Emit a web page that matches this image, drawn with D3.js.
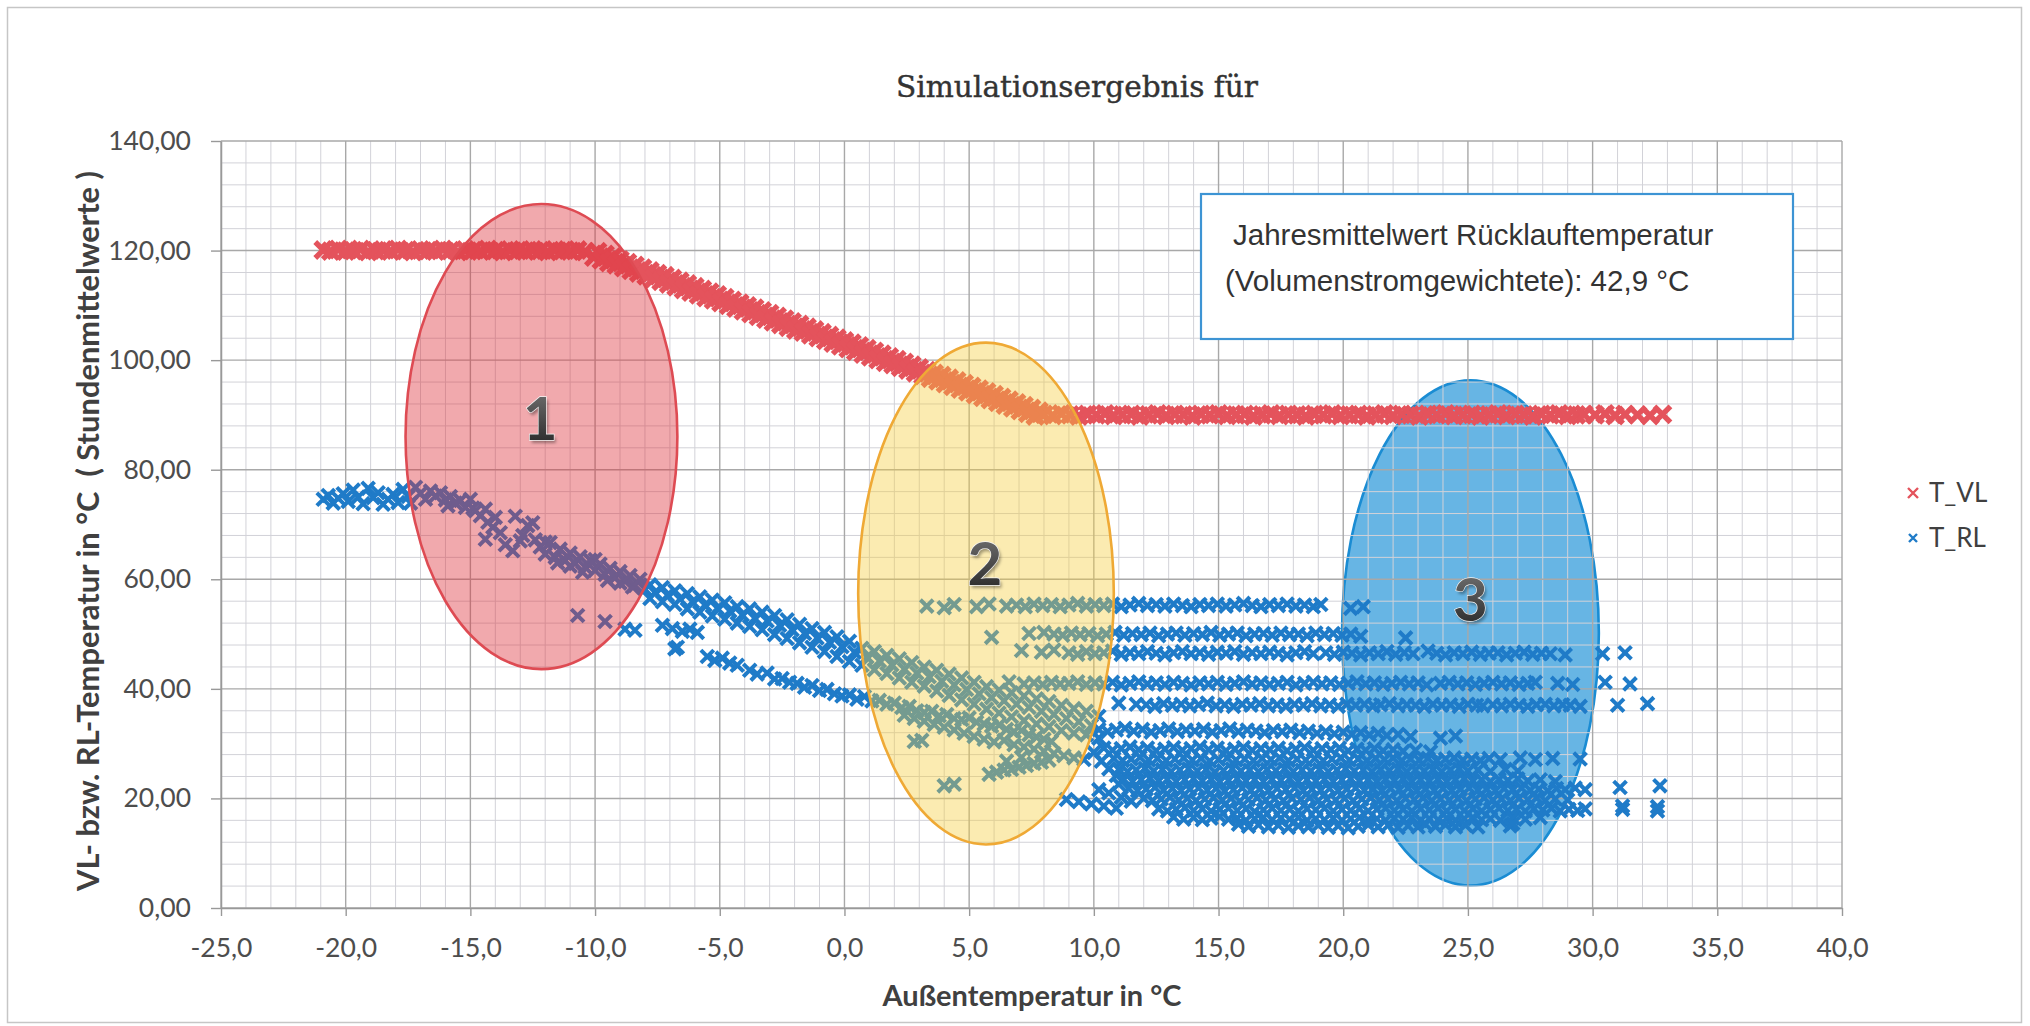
<!DOCTYPE html>
<html>
<head>
<meta charset="utf-8">
<script src="https://cdn.jsdelivr.net/npm/d3@7"></script>
<style>
  html, body { margin: 0; padding: 0; background: #fff; }
  svg { display: block; }
</style>
</head>
<body>
<svg id="chart" width="2030" height="1026"></svg>
<script>
// ---------------------------------------------------------------
// Axis ticks and labels
// ---------------------------------------------------------------
const xTicks = [-25, -20, -15, -10, -5, 0, 5, 10, 15, 20, 25, 30, 35, 40];
const yTicks = [0, 20, 40, 60, 80, 100, 120, 140];
const seriesNames = ["T_VL", "T_RL"];
const chartTitle = "Simulationsergebnis für";
const xTitle = "Außentemperatur in °C";
const yTitle = "VL- bzw. RL-Temperatur in °C  ( Stundenmittelwerte )";
const noteLines = ["Jahresmittelwert Rücklauftemperatur", "(Volumenstromgewichtete): 42,9 °C"];

// ---------------------------------------------------------------
// T_VL (flow temperature) – hourly means [outside temp, flow temp]
// ---------------------------------------------------------------
const vlCold = [[-20.9,120.1],[-20.6,119.9],[-20.3,120.2],[-20.0,119.9],[-19.7,120.0],[-19.4,120.2],[-19.1,119.8],[-18.8,120.0],[-18.5,120.1],[-18.2,119.9],[-17.9,120.2],[-17.6,120.0],[-17.3,119.8],[-17.0,120.1],[-16.7,120.0],[-16.4,119.9],[-16.1,120.2],[-15.8,120.0],[-15.5,119.8],[-15.2,120.1],[-14.9,120.0],[-14.6,119.9],[-14.3,120.2],[-14.0,120.0],[-13.7,119.8],[-13.4,120.1],[-13.1,120.0],[-12.8,119.9],[-12.5,120.1],[-12.2,120.0],[-11.9,119.8],[-11.6,120.1],[-11.3,120.0],[-11.0,119.9],[-10.7,120.1],[-10.4,119.8]];

const vlSlope = [[-9.9,119.8],[-9.6,119.3],[-9.3,118.8],[-9.0,118.3],[-8.7,117.8],[-8.4,117.3],[-8.1,116.8],[-7.8,116.3],[-7.5,115.8],[-7.2,115.4],[-6.9,114.9],[-6.6,114.4],[-6.3,113.9],[-6.0,113.4],[-5.7,112.9],[-5.4,112.4],[-5.1,111.9],[-4.8,111.4],[-4.5,110.9],[-4.2,110.4],[-3.9,109.9],[-3.6,109.5],[-3.3,109.0],[-3.0,108.5],[-2.7,108.0],[-2.4,107.5],[-2.1,107.0],[-1.8,106.5],[-1.5,106.0],[-1.2,105.5],[-0.9,105.0],[-0.6,104.5],[-0.3,104.0],[0.0,103.5],[0.3,103.1],[0.6,102.6],[0.9,102.1],[1.2,101.6],[1.5,101.1],[1.8,100.6],[2.1,100.1],[2.4,99.6],[2.7,99.1],[3.0,98.6],[3.3,98.1],[3.6,97.6],[3.9,97.2],[4.2,96.7],[4.5,96.2],[4.8,95.7],[5.1,95.2],[5.4,94.7],[5.7,94.2],[6.0,93.7],[6.3,93.2],[6.6,92.7],[6.9,92.2],[7.2,91.7],[7.5,91.2],[7.8,90.7],
  [-10.05,118.8],[-9.75,118.3],[-9.45,117.8],[-9.15,117.4],[-8.85,116.9],[-8.55,116.4],[-8.25,115.9],[-7.95,115.4],[-7.65,114.9],[-7.35,114.4],[-7.05,113.9],[-6.75,113.4],[-6.45,112.9],[-6.15,112.4],[-5.85,111.9],[-5.55,111.4],[-5.25,111.0],[-4.95,110.5],[-4.65,110.0],[-4.35,109.5],[-4.05,109.0],[-3.75,108.5],[-3.45,108.0],[-3.15,107.5],[-2.85,107.0],[-2.55,106.5],[-2.25,106.0],[-1.95,105.5],[-1.65,105.1],[-1.35,104.6],[-1.05,104.1],[-0.75,103.6],[-0.45,103.1],[-0.15,102.6],[0.15,102.1],[0.45,101.6],[0.75,101.1],[1.05,100.6],[1.35,100.1],[1.65,99.6],[1.95,99.2],[2.25,98.7],[2.55,98.2],[2.85,97.7],[3.15,97.2],[3.45,96.7],[3.75,96.2],[4.05,95.7],[4.35,95.2],[4.65,94.7],[4.95,94.2],[5.25,93.7],[5.55,93.2],[5.85,92.8],[6.15,92.3],[6.45,91.8],[6.75,91.3],[7.05,90.8],[7.35,90.3],[7.65,89.8]];

const vlWarm = [[8.0,90.1],[8.35,89.9],[8.7,90.2],[9.05,90.0],[9.4,89.8],[9.75,90.1],[10.1,90.0],[10.45,90.2],[10.8,89.9],[11.15,90.0],[11.5,90.1],[11.85,89.8],[12.2,90.0],[12.55,90.2],[12.9,89.9],[13.25,90.1],[13.6,90.0],[13.95,89.8],[14.3,90.1],[14.65,90.0],[15.0,90.2],[15.35,89.9],[15.7,90.0],[16.05,90.1],[16.4,89.8],[16.75,90.0],[17.1,90.2],[17.45,89.9],[17.8,90.1],[18.15,90.0],[18.5,89.8],[18.85,90.1],[19.2,90.0],[19.55,90.2],[19.9,89.9],[20.25,90.0],[20.6,90.1],[20.95,89.8],[21.3,90.0],[21.65,90.2],[22.0,89.9],[22.35,90.1],[22.7,90.0],[23.05,89.8],[23.4,90.1],[23.75,90.0],[24.1,90.2],[24.45,89.9],[24.8,90.0],[25.15,90.1],[25.5,89.8],[25.85,90.0],[26.2,90.2],[26.55,89.9],[26.9,90.1],[27.25,90.0],[27.6,89.8],[27.95,90.1],[28.3,90.0],[28.65,90.2],[29.0,89.9],[29.35,90.0],[29.65,90.1],
  [30.1,90.0],[30.5,90.2],[30.9,89.9],[31.3,90.1],[31.8,90.0],[32.3,89.9],[32.8,90.1]];

// ---------------------------------------------------------------
// T_RL (return temperature) – hourly means [outside temp, return temp]
// ---------------------------------------------------------------
const rlCold = [[-20.9,74.6],[-20.7,75.3],[-20.5,73.9],[-20.3,74.8],[-20.1,75.6],[-19.9,74.2],[-19.7,76.3],[-19.5,75.0],[-19.3,73.8],[-19.1,76.6],[-18.9,74.9],[-18.7,75.8],[-18.5,73.7],[-18.3,74.6],[-18.1,75.5],[-17.9,74.0],[-17.7,76.4],[-17.5,75.1],[-17.4,73.9],[-17.2,76.8],[-17.0,75.7],[-16.8,74.6],[-16.6,76.1],[-16.4,75.2]];

const rlSteep = [[-16.2,75.8],[-16.0,74.5],[-15.9,73.4],[-15.8,75.1],[-15.6,73.9],[-15.4,74.4],[-15.2,73.1],[-15.0,74.6],[-14.9,73.0],[-14.8,72.5],[-14.6,71.6],[-14.4,72.8],[-14.3,70.4],[-14.1,69.5],[-14.0,71.3],[-14.4,67.3],[-13.8,68.5],[-13.6,66.3],[-13.2,71.5],[-13.3,65.2],[-13.0,67.0],[-12.9,68.0],[-12.7,69.8],[-12.5,70.3],[-12.4,67.2],[-12.2,65.9],[-12.0,64.6],[-12.0,66.8],[-11.8,66.7],[-11.6,64.0],[-11.5,63.0],[-11.4,65.5],[-11.2,63.4],[-11.0,64.8],[-11.0,62.4],[-10.8,62.9],[-10.6,64.1],[-10.5,61.3],[-10.4,62.2],[-10.2,63.5],[-10.0,61.6],[-10.0,63.6],[-9.8,62.8],[-9.6,60.9],[-9.5,59.8],[-9.4,62.0],[-9.2,60.3],[-9.0,61.4],[-9.0,59.3],[-8.8,59.6],[-8.6,60.7],[-8.5,58.6],[-8.4,58.9],[-8.2,60.0],[-8.0,58.2],
  [-10.7,53.4],[-9.6,52.3],[-8.8,50.9],[-8.4,50.7],[-6.7,47.6]];

const rlMain = [[-7.8,59.0],[-7.3,58.5],[-6.8,57.9],[-6.3,57.4],[-5.8,56.8],[-5.3,56.2],[-4.8,55.7],[-4.3,55.0],[-3.8,54.6],[-3.3,54.0],[-2.8,53.4],[-2.3,52.6],[-1.8,51.8],[-1.3,51.0],[-0.8,50.3],[-0.3,49.5],[0.2,48.7],[0.7,47.4],[1.2,46.8],[1.7,46.1],[2.2,45.5],[2.7,44.8],[3.2,44.0],[3.7,43.4],[4.2,42.7],[4.7,42.0],[5.2,41.2],[5.7,40.4],[6.2,39.8],[6.7,39.3],[7.2,38.7],[7.7,38.2],[8.2,37.7],[8.7,37.0],[9.2,36.4],[9.7,35.9],[10.2,35.0],
  [-7.6,57.6],[-7.1,57.1],[-6.6,56.4],[-6.1,55.9],[-5.6,55.3],[-5.1,54.7],[-4.6,54.2],[-4.1,53.5],[-3.6,52.9],[-3.1,52.4],[-2.6,51.6],[-2.1,50.8],[-1.6,50.1],[-1.1,49.3],[-0.6,48.5],[-0.1,47.7],[0.4,46.7],[0.9,45.8],[1.4,45.1],[1.9,44.4],[2.4,43.6],[2.9,42.9],[3.4,42.2],[3.9,41.4],[4.4,40.7],[4.9,39.9],[5.4,39.1],[5.9,38.4],[6.4,37.8],[6.9,37.2],[7.4,36.6],[7.9,35.9],[8.4,35.3],[8.9,34.6],[9.4,34.0],[9.9,33.3],
  [-7.8,56.5],[-7.3,55.9],[-6.8,55.4],[-6.3,54.6],[-5.8,54.0],[-5.3,53.3],[-4.8,52.7],[-4.3,52.0],[-3.8,51.4],[-3.3,50.8],[-2.8,49.9],[-2.3,49.2],[-1.8,48.4],[-1.3,47.6],[-0.8,46.8],[-0.3,45.9],[0.2,45.0],[0.7,44.3],[1.2,43.5],[1.7,42.8],[2.2,42.0],[2.7,41.2],[3.2,40.5],[3.7,39.6],[4.2,38.8],[4.7,38.0],[5.2,37.2],[5.7,36.3],[6.2,35.6],[6.7,34.9],[7.2,34.2],[7.7,33.6],[8.2,33.1],[8.7,32.4],[9.2,31.9],[9.7,31.6],[10.2,31.0]];

const rlLower = [[-7.3,51.6],[-6.9,51.0],[-6.5,50.5],[-6.2,50.9],[-5.9,50.3],[-6.8,47.3],[-5.5,45.9],[-5.2,45.2],[-4.9,45.6],[-4.6,44.7],[-4.3,44.3],[-3.8,43.4],[-3.5,42.7],[-3.1,42.9],[-2.8,41.8],[-2.5,41.9],[-2.2,41.2],[-1.9,41.0],[-1.6,40.3],[-1.3,40.6],[-1.0,39.7],[-0.7,39.9],[-0.4,39.1],[-0.1,38.7],[0.2,38.9],[0.5,38.1],[0.8,38.6],[1.1,37.8],[1.4,37.9],[1.7,37.2],[2.0,37.4],[2.3,36.6],[2.6,36.8],[2.9,36.0],[3.2,35.7],[3.5,35.9],[3.8,35.1],[4.1,35.3],[4.4,34.6],[4.7,34.4],[5.0,34.7],[5.3,33.9],[5.6,33.6],[5.9,33.2],[6.2,33.4],[6.5,32.6],[6.8,32.2],[7.1,32.4],[7.4,31.6],[7.7,31.2],[8.0,30.8],[8.3,30.4],
  [2.4,35.2],[2.8,34.6],[3.2,34.1],[3.6,33.5],[4.0,33.0],[4.4,32.5],[4.8,31.9],[5.2,31.3],[5.6,30.8],[6.0,30.3],[6.4,30.6],[6.8,29.8],[7.2,29.4],[7.6,29.0],[8.0,28.6],[8.4,28.2],[8.8,27.8],[9.2,27.4],[9.6,27.1],
  [5.8,24.4],[6.1,24.8],[6.4,25.2],[6.7,25.3],[7.0,25.7],[7.3,26.0],[7.6,26.4],[7.9,26.6],[8.2,27.0],[6.5,26.8],[7.1,27.5],
  [2.8,30.4],[3.1,30.6],[4.0,22.3],[4.4,22.6],
  [10.0,28.4],[10.3,26.8],[10.6,25.4],[10.9,24.2],[11.0,22.6],[10.2,21.6],[10.6,21.0],[8.9,19.8],[9.4,19.4],[9.9,19.0],[10.4,18.6],[10.9,18.2],[11.5,19.5],[11.1,20.2]];

const rlRow55 = [[3.3,55.1],[4.0,54.8],[4.4,55.4],[5.3,55.0],[5.8,55.5],[6.5,55.1],[6.9,55.3],[7.25,55.0],[7.6,55.5],[7.95,55.2],[8.3,55.4],[8.65,55.0],[9.0,55.3],[9.35,55.6],[9.7,55.1],[10.05,55.4],[10.4,55.2],[10.75,55.5],[11.1,55.0],[11.45,55.3],[11.8,55.6],[12.15,55.2],[12.5,55.4],[12.85,55.1],[13.2,55.5],[13.55,55.2],[13.9,55.0],[14.25,55.4],[14.6,55.2],[14.95,55.5],[15.3,55.1],[15.65,55.3],[16.0,55.6],[16.35,55.2],[16.7,55.0],[17.05,55.4],[17.4,55.2],[17.75,55.5],[18.1,55.1],[18.45,55.3],[18.8,55.0],[19.1,55.4],[20.3,54.7],[20.8,55.0]];

const rlRow50 = [[5.9,49.4],[7.4,50.1],[8.0,50.3],[8.4,50.0],[8.75,49.8],[9.1,50.2],[9.45,49.9],[9.8,50.1],[10.15,49.7],[10.5,50.0],[10.85,50.3],[11.2,49.8],[11.55,50.1],[11.9,49.9],[12.25,50.2],[12.6,49.7],[12.95,50.0],[13.3,50.2],[13.65,49.8],[14.0,50.1],[14.35,49.9],[14.7,50.3],[15.05,49.8],[15.4,50.0],[15.75,50.2],[16.1,49.7],[16.45,50.0],[16.8,50.1],[17.15,49.8],[17.5,50.2],[17.85,49.9],[18.2,50.0],[18.55,49.7],[18.9,50.2],[19.25,49.9],[19.6,50.1],[19.95,49.8],[20.3,50.0],[20.7,49.6],[22.5,49.3]];

const rlRow46 = [[7.1,47.0],[7.9,46.7],[8.4,47.1],[9.0,46.6],[9.35,46.3],[9.7,46.8],[10.05,46.4],[10.4,46.6],[10.75,46.9],[11.1,46.3],[11.45,46.6],[11.8,46.4],[12.15,46.8],[12.5,46.5],[12.85,46.2],[13.2,46.6],[13.55,46.8],[13.9,46.4],[14.25,46.6],[14.6,46.3],[14.95,46.7],[15.3,46.5],[15.65,46.8],[16.0,46.3],[16.35,46.6],[16.7,46.4],[17.05,46.7],[17.4,46.5],[17.75,46.2],[18.1,46.6],[18.45,46.8],[18.8,46.4],[19.3,46.6],[19.65,46.3],[20.0,46.7],[20.35,46.5],[20.7,46.2],[21.05,46.6],[21.4,46.4],[21.75,46.8],[22.1,46.3],[22.45,46.6],[22.8,46.4],[23.4,46.9],[23.75,46.5],[24.1,46.2],[24.45,46.6],[24.8,46.4],[25.15,46.7],[25.5,46.3],[25.85,46.5],[26.2,46.6],[26.55,46.2],[26.9,46.5],[27.25,46.7],[27.6,46.3],[27.95,46.5],[28.3,46.4],[28.9,46.2],[30.4,46.4],[31.3,46.6]];

const rlRow41 = [[6.6,41.3],[7.2,40.9],[7.6,41.1],[7.95,40.8],[8.3,41.2],[8.65,40.9],[9.0,41.0],[9.35,41.3],[9.7,40.8],[10.05,41.1],[10.4,40.9],[10.75,41.2],[11.1,40.7],[11.45,41.0],[11.8,41.3],[12.15,40.9],[12.5,41.1],[12.85,40.8],[13.2,41.2],[13.55,41.0],[13.9,40.7],[14.25,41.1],[14.6,40.9],[14.95,41.2],[15.3,40.8],[15.65,41.0],[16.0,41.3],[16.35,40.9],[16.7,41.1],[17.05,40.8],[17.4,41.0],[17.75,41.2],[18.1,40.7],[18.45,41.0],[18.8,41.2],[19.15,40.9],[19.5,41.1],[19.85,40.8],[20.2,41.0],[20.55,41.3],[20.9,40.9],[21.25,41.1],[21.6,40.8],[21.95,41.0],[22.3,41.2],[22.65,40.9],[23.0,41.1],[23.35,40.7],[23.9,41.0],[24.25,41.2],[24.6,40.9],[24.95,41.1],[25.3,40.8],[25.65,41.0],[26.0,41.2],[26.35,40.9],[26.7,41.1],[27.05,40.8],[27.4,41.0],[27.7,41.2],[28.6,41.0],[29.2,40.8],[30.5,41.2],[31.5,40.9]];

const rlRow37 = [[11.0,37.4],[11.7,37.2],[12.1,37.1],[12.45,36.8],[12.8,37.3],[13.15,37.0],[13.5,37.2],[13.85,36.9],[14.2,37.1],[14.55,37.4],[14.9,36.9],[15.25,37.1],[15.6,36.8],[15.95,37.2],[16.3,37.0],[16.65,37.3],[17.0,36.9],[17.35,37.1],[17.7,36.8],[18.05,37.2],[18.4,37.0],[18.75,37.3],[19.1,36.9],[19.45,37.1],[19.8,36.8],[20.15,37.2],[20.5,37.0],[20.85,37.2],[21.2,36.9],[21.5,37.1],[21.85,37.3],[22.2,36.9],[22.55,37.1],[22.9,37.0],[23.25,36.8],[23.6,37.2],[23.95,37.0],[24.3,37.1],[24.65,36.8],[25.0,37.2],[25.35,37.0],[25.6,36.9],[26.0,37.1],[26.35,36.9],[26.7,37.2],[27.05,37.0],[27.4,36.8],[27.75,37.1],[28.1,37.2],[28.45,36.9],[28.8,37.1],[29.1,37.0],[29.5,36.8],[31.0,37.0],[32.2,37.3]];

const rlRow32 = [[10.2,32.6],[10.55,32.2],[10.9,32.5],[11.25,32.8],[11.6,32.3],[11.95,32.6],[12.3,32.1],[12.65,32.4],[13.0,32.7],[13.35,32.2],[13.7,32.5],[14.05,32.3],[14.4,32.6],[14.75,32.1],[15.1,32.4],[15.45,32.7],[15.8,32.2],[16.15,32.5],[16.5,32.3],[16.85,32.0],[17.2,32.4],[17.55,32.2],[17.9,32.5],[18.25,32.0],[18.6,32.3],[18.95,31.9],[19.3,32.2],[19.65,31.8],[20.0,32.1],[20.35,31.7],[20.7,32.0],[21.05,31.6],[21.4,31.9],[21.75,31.5],[22.2,31.7],[22.7,31.3],[23.9,31.0],[24.5,31.4]];

const rlBlob29 = [[10.4,29.2],[10.75,28.8],[11.1,29.1],[11.45,29.4],[11.8,28.9],[12.15,29.2],[12.5,28.7],[12.85,29.0],[13.2,29.3],[13.55,28.8],[13.9,29.1],[14.25,29.4],[14.6,28.9],[14.95,29.2],[15.3,28.7],[15.65,29.0],[16.0,29.3],[16.35,28.8],[16.7,29.1],[17.05,28.9],[17.4,29.2],[17.75,28.7],[18.1,29.0],[18.45,29.3],[18.8,28.8],[19.15,29.1],[19.5,28.9],[19.85,29.2],[20.2,28.7],[20.55,29.0],[20.9,28.8],[21.25,29.1],[21.6,28.7],[22.0,28.9],[22.4,28.6],[22.9,28.8],[23.5,28.5]];

const rlBlob27 = [[10.8,27.3],[11.15,26.9],[11.5,27.2],[11.85,27.5],[12.2,27.0],[12.55,27.3],[12.9,26.9],[13.25,27.2],[13.6,27.4],[13.95,27.0],[14.3,27.3],[14.65,26.8],[15.0,27.1],[15.35,27.4],[15.7,27.0],[16.05,27.2],[16.4,26.9],[16.75,27.3],[17.1,27.1],[17.45,27.4],[17.8,26.9],[18.15,27.2],[18.5,27.0],[18.85,27.3],[19.2,26.9],[19.55,27.2],[19.9,27.4],[20.25,27.0],[20.6,27.2],[20.95,26.9],[21.3,27.3],[21.65,27.1],[22.0,27.4],[22.35,26.9],[22.7,27.2],[23.05,27.0],[23.4,27.3],[23.75,26.9],[24.1,27.2],[24.45,27.4],[24.8,27.0],[25.15,27.2],[25.5,26.9],[25.85,27.3],[26.3,27.1],[27.1,27.4],[27.7,27.1],[28.4,27.3],[29.5,27.2]];

const rlBlob25 = [[11.0,25.3],[11.35,24.9],[11.7,25.2],[12.05,25.5],[12.4,25.0],[12.75,25.3],[13.1,24.9],[13.45,25.2],[13.8,25.4],[14.15,25.0],[14.5,25.3],[14.85,24.8],[15.2,25.1],[15.55,25.4],[15.9,25.0],[16.25,25.2],[16.6,24.9],[16.95,25.3],[17.3,25.1],[17.65,25.4],[18.0,24.9],[18.35,25.2],[18.7,25.0],[19.05,25.3],[19.4,24.9],[19.75,25.2],[20.1,25.4],[20.45,25.0],[20.8,25.2],[21.15,24.9],[21.5,25.3],[21.85,25.1],[22.2,25.4],[22.55,24.9],[22.9,25.2],[23.25,25.0],[23.6,25.3],[23.95,24.9],[24.3,25.2],[24.65,25.4],[25.0,25.0],[25.4,25.2],[25.9,24.9],[26.5,25.3],[27.0,25.0]];

const rlBlob23 = [[11.2,23.5],[11.55,23.1],[11.9,23.4],[12.25,23.7],[12.6,23.2],[12.95,23.5],[13.3,23.1],[13.65,23.4],[14.0,23.6],[14.35,23.2],[14.7,23.5],[15.05,23.0],[15.4,23.3],[15.75,23.6],[16.1,23.2],[16.45,23.4],[16.8,23.1],[17.15,23.5],[17.5,23.3],[17.85,23.6],[18.2,23.1],[18.55,23.4],[18.9,23.2],[19.25,23.5],[19.6,23.1],[19.95,23.4],[20.3,23.6],[20.65,23.2],[21.0,23.4],[21.35,23.1],[21.7,23.5],[22.05,23.3],[22.4,23.6],[22.75,23.1],[23.1,23.4],[23.45,23.2],[23.8,23.5],[24.15,23.1],[24.5,23.4],[24.85,23.6],[25.2,23.2],[25.55,23.4],[25.9,23.1],[26.25,23.5],[26.6,23.3],[27.0,23.6],[27.4,23.2],[27.9,23.4],[28.5,23.1]];

const rlBlob21 = [[11.4,21.8],[11.75,21.4],[12.1,21.7],[12.45,22.0],[12.8,21.5],[13.15,21.8],[13.5,21.4],[13.85,21.7],[14.2,21.9],[14.55,21.5],[14.9,21.8],[15.25,21.3],[15.6,21.6],[15.95,21.9],[16.3,21.5],[16.65,21.7],[17.0,21.4],[17.35,21.8],[17.7,21.6],[18.05,21.9],[18.4,21.4],[18.75,21.7],[19.1,21.5],[19.45,21.8],[19.8,21.4],[20.15,21.7],[20.5,21.9],[20.85,21.5],[21.2,21.7],[21.55,21.4],[21.9,21.8],[22.25,21.6],[22.6,21.9],[22.95,21.4],[23.3,21.7],[23.65,21.5],[24.0,21.8],[24.35,21.4],[24.7,21.7],[25.05,21.9],[25.4,21.5],[25.75,21.7],[26.1,21.4],[26.45,21.8],[26.8,21.6],[27.15,21.9],[27.5,21.5],[27.85,21.7],[28.2,21.4],[28.55,21.8],[28.9,21.6],[29.3,21.9],[29.7,21.6],[31.1,22.0],[32.7,22.3]];

const rlBlob20 = [[12.0,20.0],[12.35,19.6],[12.7,19.9],[13.05,20.2],[13.4,19.7],[13.75,20.0],[14.1,19.6],[14.45,19.9],[14.8,20.1],[15.15,19.7],[15.5,20.0],[15.85,19.5],[16.2,19.8],[16.55,20.1],[16.9,19.7],[17.25,19.9],[17.6,19.6],[17.95,20.0],[18.3,19.8],[18.65,20.1],[19.0,19.6],[19.35,19.9],[19.7,19.7],[20.05,20.0],[20.4,19.6],[20.75,19.9],[21.1,20.1],[21.45,19.7],[21.8,19.9],[22.15,19.6],[22.5,20.0],[22.85,19.8],[23.2,20.1],[23.55,19.6],[23.9,19.9],[24.25,19.7],[24.6,20.0],[24.95,19.6],[25.3,19.9],[25.65,20.1],[26.0,19.7],[26.35,19.9],[26.7,19.6],[27.05,20.0],[27.4,19.8],[27.75,20.1],[28.1,19.6],[28.5,19.9],[29.0,19.7]];

const rlBlob18 = [[12.6,18.1],[12.95,17.7],[13.3,18.0],[13.65,18.3],[14.0,17.8],[14.35,18.1],[14.7,17.7],[15.05,18.0],[15.4,18.2],[15.75,17.8],[16.1,18.1],[16.45,17.6],[16.8,17.9],[17.15,18.2],[17.5,17.8],[17.85,18.0],[18.2,17.7],[18.55,18.1],[18.9,17.9],[19.25,18.2],[19.6,17.7],[19.95,18.0],[20.3,17.8],[20.65,18.1],[21.0,17.7],[21.35,18.0],[21.7,18.2],[22.05,17.8],[22.4,18.0],[22.75,17.7],[23.1,18.1],[23.45,17.9],[23.8,18.2],[24.15,17.7],[24.5,18.0],[24.85,17.8],[25.2,18.1],[25.55,17.7],[25.9,18.0],[26.25,18.2],[26.6,17.8],[26.95,18.0],[27.3,17.7],[27.65,18.1],[28.0,17.9],[28.35,18.2],[28.7,17.7],[29.05,18.0],[29.4,17.8],[29.7,18.1],[31.2,18.0],[32.6,17.7],[31.2,18.6],[32.6,18.5]];

const rlBlob16 = [[13.2,16.6],[13.6,16.2],[14.0,16.5],[14.35,16.1],[14.7,16.4],[15.05,16.7],[15.4,16.2],[15.75,16.4],[16.1,16.0],[16.45,16.3],[16.8,16.5],[17.15,16.1],[17.5,16.4],[17.85,16.2],[18.2,16.5],[18.55,16.0],[18.9,16.3],[19.25,16.1],[19.6,16.4],[19.95,16.0],[20.3,16.3],[20.65,16.5],[21.0,16.1],[21.35,16.3],[21.7,16.0],[22.05,16.4],[22.4,16.2],[22.75,16.5],[23.1,16.0],[23.45,16.3],[23.8,16.1],[24.15,16.4],[24.5,16.0],[24.85,16.3],[25.2,16.5],[25.55,16.1],[25.9,16.3],[26.3,16.0],[26.8,16.4],[27.3,16.2],[27.9,16.5]];

const rlBlob15 = [[15.8,15.3],[16.2,14.9],[16.6,15.2],[17.0,14.8],[17.4,15.1],[17.8,14.7],[18.2,15.0],[18.6,14.8],[19.0,15.1],[19.4,14.7],[19.8,15.0],[20.2,14.6],[20.6,14.9],[21.0,15.2],[21.4,14.8],[21.8,15.1],[22.2,14.7],[22.6,15.0],[23.0,14.8],[23.3,15.3],[23.7,14.9],[24.1,15.2],[24.5,14.8],[24.9,15.1],[25.4,14.8],[26.7,15.0],[26.8,15.4]];

// Highlighted operating regions: label, outside-temp span, temperature span, label anchor
const regionLabels = ["1", "2", "3"];
const regionX = [[-17.6, -6.7], [0.55, 10.8], [19.95, 30.25]];
const regionY = [[43.6, 128.5], [11.6, 103.2], [4.1, 96.3]];
const regionLabelAt = [[-12.2, 89.7], [5.63, 63.2], [25.1, 56.5]];

// ---------------------------------------------------------------
const tVL = [].concat(vlCold, vlSlope, vlWarm);
const tRL = [].concat(rlCold, rlSteep, rlMain, rlLower, rlRow55, rlRow50, rlRow46, rlRow41,
                      rlRow37, rlRow32, rlBlob29, rlBlob27, rlBlob25, rlBlob23, rlBlob21,
                      rlBlob20, rlBlob18, rlBlob16, rlBlob15);

const COL_VL = "#e4535c";
const COL_RL = "#1f7bc8";
const regionStyle = [
  { fill: "rgb(222,50,60)",  opacity: 0.42, stroke: "#de4b53" },
  { fill: "rgb(245,205,60)", opacity: 0.40, stroke: "#efa935" },
  { fill: "rgb(45,152,218)", opacity: 0.72, stroke: "#1a8cd3" }
];

const svg = d3.select("#chart");
const x = d3.scaleLinear().domain([-25, 40]).range([221, 1842]);
const y = d3.scaleLinear().domain([0, 140]).range([908, 141]);

const fmtX = d => d.toFixed(1).replace(".", ",");
const fmtY = d => d.toFixed(2).replace(".", ",");
const xMark = h => `M${-h},${-h}L${h},${h}M${-h},${h}L${h},${-h}`;

function fitWidth(sel, target) {
  const len = sel.node().getComputedTextLength();
  const fs = parseFloat(sel.attr("font-size"));
  sel.attr("font-size", (fs * target / len).toFixed(2));
}

// defs: label gradient + shadow
const defs = svg.append("defs");
const grad = defs.append("linearGradient").attr("id", "numFill").attr("x1", 0).attr("y1", 0).attr("x2", 0).attr("y2", 1);
grad.append("stop").attr("offset", "0%").attr("stop-color", "#7a7a7a");
grad.append("stop").attr("offset", "100%").attr("stop-color", "#222");
const shadow = defs.append("filter").attr("id", "soft").attr("x", "-50%").attr("y", "-50%").attr("width", "200%").attr("height", "200%");
shadow.append("feGaussianBlur").attr("stdDeviation", 1.6);

// background + outer frame
svg.append("rect").attr("width", 2030).attr("height", 1026).attr("fill", "#fff");
svg.append("rect").attr("x", 7.5).attr("y", 7.5).attr("width", 2014).attr("height", 1015)
  .attr("fill", "none").attr("stroke", "#c6c6c6").attr("stroke-width", 1.5);

// region 3 sits beneath the grid and data
function drawRegion(g, i) {
  const [x0, x1] = regionX[i], [y0, y1] = regionY[i];
  g.append("ellipse")
    .attr("cx", (x(x0) + x(x1)) / 2).attr("cy", (y(y0) + y(y1)) / 2)
    .attr("rx", (x(x1) - x(x0)) / 2).attr("ry", (y(y0) - y(y1)) / 2)
    .attr("fill", regionStyle[i].fill).attr("fill-opacity", regionStyle[i].opacity)
    .attr("stroke", regionStyle[i].stroke).attr("stroke-width", 2.6);
}
drawRegion(svg.append("g"), 2);

// grid
const grid = svg.append("g");
const xMinor = d3.range(-25, 41, 1).filter(v => v % 5 !== 0);
const yMinor = d3.range(0, 141, 4).filter(v => v % 20 !== 0);
grid.selectAll(".vmin").data(xMinor).join("line")
  .attr("x1", d => x(d)).attr("x2", d => x(d)).attr("y1", y(0)).attr("y2", y(140))
  .attr("stroke", "#d2d2d8").attr("stroke-width", 1);
grid.selectAll(".hmin").data(yMinor).join("line")
  .attr("x1", x(-25)).attr("x2", x(40)).attr("y1", d => y(d)).attr("y2", d => y(d))
  .attr("stroke", "#d2d2d8").attr("stroke-width", 1);
grid.selectAll(".vmaj").data(xTicks).join("line")
  .attr("x1", d => x(d)).attr("x2", d => x(d)).attr("y1", y(0)).attr("y2", y(140))
  .attr("stroke", "#a8a8a8").attr("stroke-width", 1.4);
grid.selectAll(".hmaj").data(yTicks).join("line")
  .attr("x1", x(-25)).attr("x2", x(40)).attr("y1", d => y(d)).attr("y2", d => y(d))
  .attr("stroke", "#a8a8a8").attr("stroke-width", 1.4);

// axes
const gx = svg.append("g").attr("transform", `translate(0,${y(0)})`)
  .call(d3.axisBottom(x).tickValues(xTicks).tickSize(8).tickSizeOuter(0).tickPadding(22).tickFormat(fmtX));
const gy = svg.append("g").attr("transform", `translate(${x(-25)},0)`)
  .call(d3.axisLeft(y).tickValues(yTicks).tickSize(10).tickSizeOuter(0).tickPadding(20).tickFormat(fmtY));
[gx, gy].forEach(g => {
  g.select(".domain").attr("stroke", "#999").attr("stroke-width", 1.5);
  g.selectAll(".tick line").attr("stroke", "#999").attr("stroke-width", 1.4);
  g.selectAll(".tick text").attr("font-family", "Lato, 'Open Sans', sans-serif")
    .attr("font-size", 26.5).attr("fill", "#4d4d4d");
});

// data markers
svg.append("g").selectAll("path").data(tRL).join("path")
  .attr("d", xMark(6.4))
  .attr("transform", d => `translate(${x(d[0])},${y(d[1])})`)
  .attr("fill", "none").attr("stroke", COL_RL).attr("stroke-width", 4);
svg.append("g").selectAll("path").data(tVL).join("path")
  .attr("d", xMark(8))
  .attr("transform", d => `translate(${x(d[0])},${y(d[1])})`)
  .attr("fill", "none").attr("stroke", COL_VL).attr("stroke-width", 5.4);

// translucent regions 1 and 2 over the data
const over = svg.append("g");
drawRegion(over, 0);
drawRegion(over, 1);

// note box
const note = svg.append("g");
note.append("rect").attr("x", 1201).attr("y", 194).attr("width", 592).attr("height", 145)
  .attr("fill", "#fff").attr("stroke", "#3d94d4").attr("stroke-width", 2.2);
note.append("text").attr("x", 1233).attr("y", 245).text(noteLines[0])
  .attr("font-family", "'Liberation Sans', Arial, sans-serif").attr("font-size", 29.5).attr("fill", "#333");
note.append("text").attr("x", 1225).attr("y", 291).text(noteLines[1])
  .attr("font-family", "'Liberation Sans', Arial, sans-serif").attr("font-size", 29.5).attr("fill", "#333");

// region numbers
const nums = svg.append("g");
regionLabels.forEach((lab, i) => {
  const px = x(regionLabelAt[i][0]), py = y(regionLabelAt[i][1]);
  nums.append("text").attr("x", px + 2).attr("y", py + 3).text(lab)
    .attr("text-anchor", "middle").attr("dominant-baseline", "central")
    .attr("font-family", "Lato, sans-serif").attr("font-weight", 700).attr("font-size", 60)
    .attr("fill", "#000").attr("fill-opacity", 0.35).attr("filter", "url(#soft)");
  nums.append("text").attr("x", px).attr("y", py).text(lab)
    .attr("text-anchor", "middle").attr("dominant-baseline", "central")
    .attr("font-family", "Lato, sans-serif").attr("font-weight", 700).attr("font-size", 60)
    .attr("fill", "url(#numFill)").attr("stroke", "#f4f4f4").attr("stroke-width", 1.3)
    .attr("paint-order", "stroke");
});

// titles
const title = svg.append("text").attr("x", 1077).attr("y", 97).attr("text-anchor", "middle")
  .attr("font-family", "'DejaVu Serif', serif").attr("font-size", 30).attr("fill", "#333")
  .attr("stroke", "#333").attr("stroke-width", 0.4)
  .text(chartTitle);
fitWidth(title, 362);

const xt = svg.append("text").attr("x", 1032).attr("y", 1006).attr("text-anchor", "middle")
  .attr("font-family", "Lato, sans-serif").attr("font-weight", 700).attr("font-size", 28)
  .attr("fill", "#404040").text(xTitle);
fitWidth(xt, 299);

const yt = svg.append("text").attr("transform", "translate(99,531) rotate(-90)")
  .attr("text-anchor", "middle")
  .attr("font-family", "Lato, sans-serif").attr("font-weight", 700).attr("font-size", 28)
  .attr("fill", "#404040").style("white-space", "pre").text(yTitle);
fitWidth(yt, 720);

// legend
const legend = svg.append("g");
const legY = [493, 538];
const legCol = [COL_VL, COL_RL];
const legSize = [5, 4];
seriesNames.forEach((name, i) => {
  legend.append("path").attr("d", xMark(legSize[i]))
    .attr("transform", `translate(1913,${legY[i]})`)
    .attr("fill", "none").attr("stroke", legCol[i]).attr("stroke-width", 2.4);
  legend.append("text").attr("x", 1929).attr("y", legY[i] + 9).text(name)
    .attr("font-family", "Lato, sans-serif").attr("font-size", 26).attr("fill", "#404040");
});
</script>
</body>
</html>
